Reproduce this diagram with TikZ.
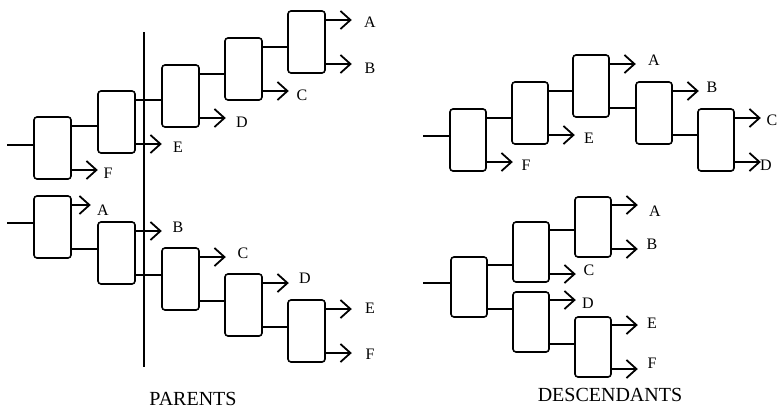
\documentclass[tikz,border=0pt]{standalone}
\usepackage{fontspec}
\setmainfont{Liberation Serif}
\usetikzlibrary{arrows.meta}
\newcommand\mkouts[1]{%
  \coordinate (#1u) at ([yshift=22pt]#1.east);
  \coordinate (#1l) at ([yshift=-22pt]#1.east);}
\begin{document}
\begin{tikzpicture}[x=1pt,y=-1pt,
  box/.style={draw,line width=1.6pt,rounded corners=3pt,minimum width=37pt,minimum height=62pt,inner sep=0pt},
  wire/.style={line width=1.8pt},
  arr/.style={line width=1.8pt,-{Straight Barb[length=10pt,width=18pt,line width=1.8pt]}},
  lab/.style={font=\fontsize{16}{16}\selectfont,inner sep=0pt},
  title/.style={font=\fontsize{20}{20}\selectfont,inner sep=0pt}]
\useasboundingbox (0,0) rectangle (779,415);

% ---------- PARENTS top ----------
\node[box] (P1) at (52.5,148) {};
\node[box] (P2) at (116.5,122) {};
\node[box] (P3) at (180.5,96) {};
\node[box] (P4) at (243.5,69) {};
\node[box] (P5) at (306.5,42) {};
\mkouts{P1}\mkouts{P2}\mkouts{P3}\mkouts{P4}\mkouts{P5}
\coordinate (Pin) at (7,145);
\draw[wire] (Pin) -- (Pin -| P1.west);
\draw[wire] (P1u) -- (P1u -| P2.west);
\draw[wire] (P2u) -- (P2u -| P3.west);
\draw[wire] (P3u) -- (P3u -| P4.west);
\draw[wire] (P4u) -- (P4u -| P5.west);
\draw[arr] (P1l) -- ++(26,0);
\draw[arr] (P2l) -- ++(26,0);
\draw[arr] (P3l) -- ++(26,0);
\draw[arr] (P4l) -- ++(26,0);
\draw[arr] (P5u) -- ++(26,0);
\draw[arr] (P5l) -- ++(26,0);
\node[lab] (pF) at (108,173) {F};
\node[lab] (pE) at (178,147) {E};
\node[lab] (pD) at (242,122) {D};
\node[lab] (pC) at (302,95) {C};
\node[lab] (pA) at (370,22) {A};
\node[lab] (pB) at (370,68) {B};

% ---------- PARENTS bottom ----------
\node[box] (Q1) at (52.5,227) {};
\node[box] (Q2) at (116.5,253) {};
\node[box] (Q3) at (180.5,279) {};
\node[box] (Q4) at (243.5,305) {};
\node[box] (Q5) at (306.5,331) {};
\mkouts{Q1}\mkouts{Q2}\mkouts{Q3}\mkouts{Q4}\mkouts{Q5}
\coordinate (Qin) at (7,223);
\draw[wire] (Qin) -- (Qin -| Q1.west);
\draw[wire] (Q1l) -- (Q1l -| Q2.west);
\draw[wire] (Q2l) -- (Q2l -| Q3.west);
\draw[wire] (Q3l) -- (Q3l -| Q4.west);
\draw[wire] (Q4l) -- (Q4l -| Q5.west);
\draw[arr] (Q1u) -- ++(19,0);
\draw[arr] (Q2u) -- ++(26,0);
\draw[arr] (Q3u) -- ++(26,0);
\draw[arr] (Q4u) -- ++(26,0);
\draw[arr] (Q5u) -- ++(26,0);
\draw[arr] (Q5l) -- ++(26,0);
\node[lab] (qA) at (103,210) {A};
\node[lab] (qB) at (178,227) {B};
\node[lab] (qC) at (243,253) {C};
\node[lab] (qD) at (305,278) {D};
\node[lab] (qE) at (370,308) {E};
\node[lab] (qF) at (370,354) {F};

% divider
\coordinate (vt) at (144,32);
\coordinate (vb) at (144,367);
\draw[line width=1.5pt] (vt) -- (vb);

\node[title] (parents) at (193,399) {PARENTS};

% ---------- DESCENDANTS top ----------
\node[box,minimum width=36pt] (D1) at (468,140) {};
\node[box,minimum width=36pt] (D2) at (530,113) {};
\node[box,minimum width=36pt] (D3) at (591,86) {};
\node[box,minimum width=36pt] (D4) at (654,113) {};
\node[box,minimum width=36pt] (D5) at (716,140) {};
\mkouts{D1}\mkouts{D2}\mkouts{D3}\mkouts{D4}\mkouts{D5}
\coordinate (Din) at (423,136);
\draw[wire] (Din) -- (Din -| D1.west);
\draw[wire] (D1u) -- (D1u -| D2.west);
\draw[wire] (D2u) -- (D2u -| D3.west);
\draw[wire] (D3l) -- (D3l -| D4.west);
\draw[wire] (D4l) -- (D4l -| D5.west);
\draw[arr] (D1l) -- ++(26,0);
\draw[arr] (D2l) -- ++(26,0);
\draw[arr] (D3u) -- ++(26,0);
\draw[arr] (D4u) -- ++(26,0);
\draw[arr] (D5u) -- ++(26,0);
\draw[arr] (D5l) -- ++(26,0);
\node[lab] (dF) at (526,165) {F};
\node[lab] (dE) at (589,138) {E};
\node[lab] (dA) at (654,60) {A};
\node[lab] (dB) at (712,87) {B};
\node[lab] (dC) at (772,120) {C};
\node[lab] (dD) at (766,165) {D};

% ---------- DESCENDANTS bottom ----------
\node[box,minimum width=36pt,minimum height=60pt] (E1) at (469,287) {};
\node[box,minimum width=36pt,minimum height=60pt] (E2) at (531,252) {};
\node[box,minimum width=36pt,minimum height=60pt] (E3) at (593,227) {};
\node[box,minimum width=36pt,minimum height=60pt] (E4) at (531,322) {};
\node[box,minimum width=36pt,minimum height=60pt] (E5) at (593,347) {};
\mkouts{E1}\mkouts{E2}\mkouts{E3}\mkouts{E4}\mkouts{E5}
\coordinate (Ein) at (423,283);
\draw[wire] (Ein) -- (Ein -| E1.west);
\draw[wire] (E1u) -- (E1u -| E2.west);
\draw[wire] (E1l) -- (E1l -| E4.west);
\draw[wire] (E2u) -- (E2u -| E3.west);
\draw[wire] (E4l) -- (E4l -| E5.west);
\draw[arr] (E2l) -- ++(26,0);
\draw[arr] (E3u) -- ++(26,0);
\draw[arr] (E3l) -- ++(26,0);
\draw[arr] (E4u) -- ++(26,0);
\draw[arr] (E5u) -- ++(26,0);
\draw[arr] (E5l) -- ++(26,0);
\node[lab] (eA) at (655,211) {A};
\node[lab] (eB) at (652,244) {B};
\node[lab] (eC) at (589,270) {C};
\node[lab] (eD) at (588,303) {D};
\node[lab] (eE) at (652,323) {E};
\node[lab] (eF) at (652,363) {F};

\node[title] (desc) at (610,395) {DESCENDANTS};
\end{tikzpicture}
\end{document}
